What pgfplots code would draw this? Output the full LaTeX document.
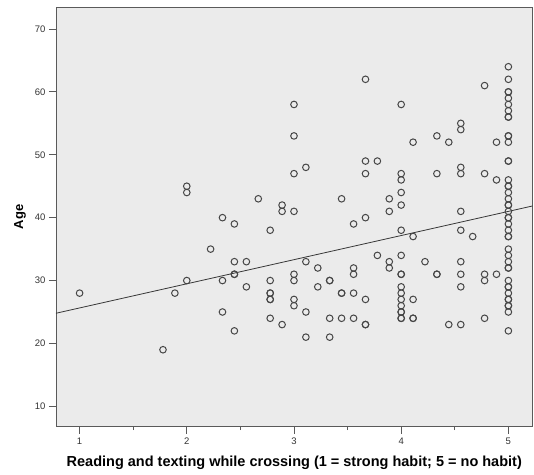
\documentclass[border=0pt]{standalone}
\usepackage{pgfplots}
\pgfplotsset{compat=1.18}
\usepackage{pgfplotstable}
\usepackage{fontspec}
\setmainfont{Liberation Sans}
\usetikzlibrary{calc}
\definecolor{bgray}{RGB}{235,235,235}
\definecolor{frame}{RGB}{90,90,90}
\definecolor{markc}{RGB}{70,70,70}
\definecolor{fitc}{RGB}{55,55,55}

\pgfplotstableread{
x y
1 28
1.778 19
1.889 28
2 45
2 44
2 30
2.222 35
2.333 40
2.333 30
2.333 25
2.444 39
2.444 33
2.444 31
2.444 31
2.444 22
2.556 33
2.556 29
2.667 43
2.778 38
2.778 30
2.778 28
2.778 28
2.778 27
2.778 27
2.778 24
2.889 42
2.889 41
2.889 23
3 58
3 53
3 47
3 41
3 31
3 30
3 27
3 26
3.111 48
3.111 33
3.111 25
3.111 21
3.222 32
3.222 29
3.333 30
3.333 30
3.333 24
3.333 21
3.444 43
3.444 28
3.444 28
3.444 24
3.556 39
3.556 32
3.556 31
3.556 28
3.556 24
3.667 62
3.667 49
3.667 47
3.667 40
3.667 27
3.667 23
3.667 23
3.778 49
3.778 34
3.889 43
3.889 41
3.889 33
3.889 32
4 58
4 47
4 46
4 44
4 42
4 38
4 34
4 31
4 31
4 29
4 28
4 27
4 26
4 25
4 25
4 24
4 24
4.111 52
4.111 37
4.111 27
4.111 24
4.111 24
4.222 33
4.333 53
4.333 47
4.333 31
4.333 31
4.444 52
4.444 23
4.556 55
4.556 54
4.556 48
4.556 47
4.556 41
4.556 38
4.556 33
4.556 31
4.556 29
4.556 23
4.667 37
4.778 61
4.778 47
4.778 31
4.778 30
4.778 24
4.889 52
4.889 46
4.889 31
5 64
5 62
5 60
5 60
5 59
5 58
5 57
5 56
5 56
5 53
5 53
5 52
5 49
5 49
5 46
5 45
5 45
5 44
5 43
5 42
5 42
5 41
5 40
5 40
5 39
5 38
5 37
5 37
5 35
5 34
5 33
5 32
5 32
5 30
5 29
5 29
5 28
5 27
5 27
5 26
5 26
5 25
5 22
}\agedata

\begin{document}
\begin{tikzpicture}
\begin{axis}[
  name=ax,
  scale only axis,
  width=476.5pt, height=419.4pt,
  xmin=0.78, xmax=5.225,
  ymin=6.76, ymax=73.45,
  axis background/.style={fill=bgray},
  axis line style={draw=frame, line width=0.9pt},
  xtick pos=bottom, ytick pos=left,
  tick align=outside,
  major tick length=7pt, minor tick length=3.5pt,
  xtick={1,2,3,4,5},
  minor xtick={1.5,2.5,3.5,4.5},
  ytick={10,20,30,40,50,60,70},
  tick style={draw=frame, line width=0.8pt},
  tick label style={font=\fontsize{9.5}{11}\selectfont, text=black!80},
  xticklabel style={yshift=-1pt},
  /pgf/number format/assume math mode=true,
  xlabel={Reading and texting while crossing (1 = strong habit; 5 = no habit)},
  ylabel={Age},
  xlabel style={font=\fontsize{14.5}{16}\selectfont\bfseries, at={(axis description cs:0.5,-0.0858)}, anchor=center},
  ylabel style={font=\fontsize{13}{15}\selectfont\bfseries, at={(axis description cs:-0.0756,0.5)}, anchor=center},
  clip=false,
]
\addplot[only marks, mark=o, mark size=3.3pt, mark options={draw=markc, line width=1pt}] table[x=x,y=y] {\agedata};
\addplot[fitc, line width=0.8pt] coordinates {(0.78,24.80) (5.225,41.86)};
\end{axis}
\pgfresetboundingbox
\path[use as bounding box] ($(ax.south west)+(-56pt,-47.3pt)$) rectangle ($(ax.north east)+(1.5pt,7.3pt)$);
\end{tikzpicture}
\end{document}
